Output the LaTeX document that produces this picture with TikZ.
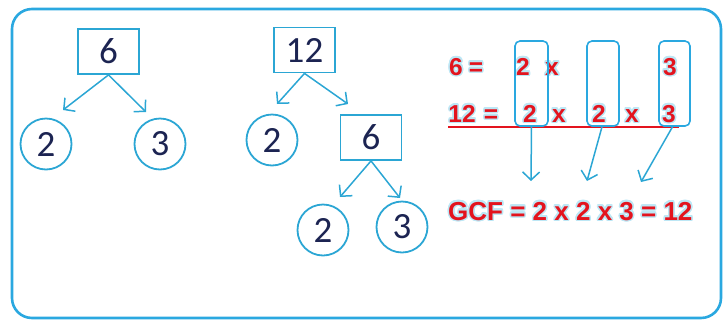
\documentclass[tikz,border=0pt]{standalone}
\usepackage{fontspec}
\setmainfont{Carlito}
\newfontfamily\redfont{Liberation Sans}
\usepackage[copies]{contour}
\contourlength{1.5pt}
\contournumber{16}
\usetikzlibrary{arrows.meta}
\definecolor{frameblue}{HTML}{2AA8E0}
\definecolor{treeblue}{HTML}{2BA6D4}
\definecolor{navy}{HTML}{1C2452}
\definecolor{gcfred}{HTML}{E3141E}
\definecolor{glow}{HTML}{BDE7F5}
\newcommand{\rt}[1]{\contour{glow}{#1}}
\tikzset{
  treebox/.style={draw=treeblue, line width=1.8pt, minimum width=61pt, minimum height=45pt, inner sep=0pt, font=\fontsize{37}{37}\selectfont, text=navy},
  treecirc/.style={draw=treeblue, line width=1.8pt, circle, minimum size=51pt, inner sep=0pt, font=\fontsize{37}{37}\selectfont, text=navy},
  treearrow/.style={draw=treeblue, line width=1.5pt, -{Straight Barb[length=8pt,width=17pt,line width=1.5pt]}},
  factbox/.style={draw=frameblue, line width=1.6pt, rounded corners=5pt, inner sep=0pt},
  redtok/.style={text=gcfred, font=\redfont\bfseries\fontsize{24.5}{24.5}\selectfont, inner sep=0pt, anchor=base},
  gcftext/.style={text=gcfred, font=\redfont\bfseries\fontsize{26}{26}\selectfont, inner sep=0pt, anchor=base west}
}
\begin{document}
\begin{tikzpicture}[x=1pt,y=-1pt]
\useasboundingbox (0,0) rectangle (726,322);
% outer frame
\draw[frameblue, line width=2.6pt, rounded corners=20pt] (12,9) rectangle (721,318);

% tree 1
\node[treebox] (t1) at (108.5,51.5) {6};
\node[treecirc] (t1a) at (46,144) {2};
\node[treecirc] (t1b) at (160,144) {3};
\coordinate (t1at) at (63,110);
\coordinate (t1bt) at (146,112);
\draw[treearrow] (t1.south) -- (t1at);
\draw[treearrow] (t1.south) -- (t1bt);

% tree 2
\node[treebox] (t2) at (304.5,50) {12};
\node[treecirc] (t2a) at (272,140) {2};
\node[treebox] (t2b) at (371,137.5) {6};
\node[treecirc] (t2c) at (323,230) {2};
\node[treecirc] (t2d) at (402,227) {3};
\coordinate (t2at) at (277,104);
\coordinate (t2bt) at (348,104);
\coordinate (t2ct) at (340,197);
\coordinate (t2dt) at (400,198);
\draw[treearrow] (t2.south) -- (t2at);
\draw[treearrow] (t2.south) -- (t2bt);
\draw[treearrow] (t2b.south) -- (t2ct);
\draw[treearrow] (t2b.south) -- (t2dt);

% factor rows
\node[redtok] (r1a) at (456,75) {\rt{6}};
\node[redtok] (r1e) at (476,75) {\rt{=}};
\node[redtok] (r1b) at (523,75) {\rt{2}};
\node[redtok] (r1c) at (552,75) {\rt{x}};
\node[redtok] (r1d) at (670,75) {\rt{3}};

\node[redtok] (r2a) at (462,122) {\rt{12}};
\node[redtok] (r2e) at (491,122) {\rt{=}};
\node[redtok] (r2b) at (530,122) {\rt{2}};
\node[redtok] (r2c) at (559,122) {\rt{x}};
\node[redtok] (r2d) at (599,122) {\rt{2}};
\node[redtok] (r2f) at (632,122) {\rt{x}};
\node[redtok] (r2g) at (669,122) {\rt{3}};
\coordinate (ulA) at (448,127);
\coordinate (ulB) at (679,127);
\draw[gcfred, line width=1.8pt] (ulA) -- (ulB);

% boxes
\node[factbox, minimum width=33pt, minimum height=85pt] (b1) at (531.5,83.5) {};
\node[factbox, minimum width=32pt, minimum height=85pt] (b2) at (603,83.5) {};
\node[factbox, minimum width=31pt, minimum height=85pt] (b3) at (674.5,83.5) {};

% GCF
\node[gcftext] (gcf) at (448,220) {\rt{GCF = 2 x 2 x 3 = 12}};

\coordinate (g1) at (531,181);
\coordinate (g2) at (587,181);
\coordinate (g3) at (641,182);
\draw[treearrow] (b1.south) -- (g1);
\draw[treearrow] ([xshift=-1pt]b2.south) -- (g2);
\draw[treearrow] ([xshift=-2pt]b3.south) -- (g3);
\end{tikzpicture}
\end{document}
